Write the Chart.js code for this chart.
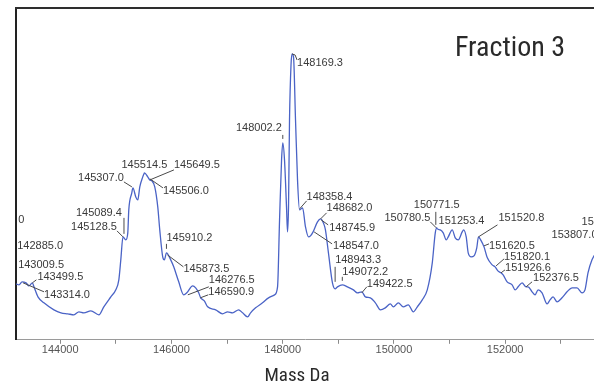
<!DOCTYPE html>
<html>
<head>
<meta charset="utf-8">
<script src="https://cdn.jsdelivr.net/npm/chart.js@4/dist/chart.umd.min.js"></script>
<style>
  html, body { margin: 0; padding: 0; background: #ffffff; }
  #wrap { width: 594px; height: 384px; }
</style>
</head>
<body>
<div id="wrap"><canvas id="spectrum" width="594" height="384"></canvas></div>
<script>
// Deconvoluted mass spectrum, Fraction 3 (mass in Da, relative intensity)
const masses = [
  143205, 143259, 143314.0, 143384, 143438, 143499.5, 143528, 143600, 143707, 143887,
  144013, 144138, 144246, 144336, 144425, 144551, 144695, 144784, 144910, 145000,
  145054, 145089.4, 145128.5, 145179, 145215, 145233, 145287, 145307.0, 145359, 145395,
  145431, 145484, 145506.0, 145514.5, 145574, 145610, 145649.5, 145700, 145754, 145790,
  145843, 145873.5, 145910.2, 145987, 146041, 146131, 146220, 146276.5, 146382, 146436,
  146490, 146526, 146590.9, 146651, 146795, 146920, 147010, 147100, 147208, 147279,
  147369, 147423, 147513, 147638, 147746, 147854, 147908, 147944, 147980, 148002.2,
  148033, 148069, 148087, 148105, 148123, 148150, 148169.3, 148195, 148231, 148267,
  148303, 148358.4, 148410, 148464, 148500, 148547.0, 148626, 148682.0, 148745.9, 148769,
  148823, 148895, 148943.3, 148985, 149072.2, 149164, 149272, 149344, 149422.5, 149487,
  149577, 149667, 149757, 149846, 149936, 149990, 150080, 150169, 150259, 150349,
  150421, 150510, 150600, 150690, 150744, 150771.5, 150780.5, 150834, 150887, 150941,
  150977, 151049, 151103, 151157, 151228, 151253.4, 151300, 151336, 151390, 151440,
  151490, 151520.8, 151560, 151620.5, 151680, 151767, 151820.1, 151870, 151926.6, 151964,
  152036, 152126, 152180, 152234, 152305, 152376.5, 152413, 152485, 152539, 152593,
  152664, 152754, 152808, 152862, 152934, 153023, 153113, 153203, 153293, 153383,
  153436, 153490, 153562, 153610
];
const intensity = [
  56, 55, 58, 57, 54, 57, 53, 43, 37, 30,
  27, 26, 25, 28, 27, 29, 25, 33, 43, 50,
  60, 80, 103, 100, 107, 130, 147, 152, 143, 140,
  153, 163, 166, 167, 163, 160, 159, 153, 133, 110,
  83, 80, 87, 80, 73, 58, 45, 47, 54, 52,
  47, 42, 39, 33, 30, 26, 28, 27, 30, 27,
  23, 27, 32, 37, 42, 45, 53, 120, 180, 197,
  180, 133, 108, 133, 220, 275, 286, 283, 220, 160,
  130, 132, 113, 103, 104, 108, 118, 121, 115, 110,
  87, 57, 51, 53, 55, 53, 50, 47, 48, 43,
  42, 37, 30, 32, 36, 33, 37, 33, 35, 28,
  33, 40, 50, 77, 107, 112, 111, 110, 107, 100,
  103, 110, 102, 100, 108, 110, 103, 87, 83, 84,
  92, 103, 100, 93, 82, 75, 73, 69, 67, 65,
  58, 55, 50, 53, 57, 53, 53, 48, 45, 50,
  47, 36, 40, 43, 38, 42, 48, 52, 52, 47,
  50, 67, 80, 85
];

// Peaks picked by the deconvolution software
const peakMasses = [
  142885.0, 143009.5, 143314.0, 143499.5, 145089.4, 145128.5, 145307.0, 145514.5,
  145506.0, 145649.5, 145873.5, 145910.2, 146276.5, 146590.9, 148002.2, 148169.3,
  148358.4, 148547.0, 148682.0, 148745.9, 148943.3, 149072.2, 149422.5, 150771.5,
  150780.5, 151253.4, 151520.8, 151620.5, 151820.1, 151926.6, 152376.5, 153807.0
];

// Axis range and tick positions (Da)
const massMin = 143205;
const massMax = 153598;
const tickValues = [144000, 145000, 146000, 147000, 148000, 149000, 150000, 151000, 152000, 153000];
const labelledTicks = [144000, 146000, 148000, 150000, 152000];

// Label placement: text offset from the peak (px), alignment, leader segments
const labelLayout = [
  { dx: 19, dy: -38, align: 'left', lines: [] },
  { dx: 13, dy: -19, align: 'left', lines: [] },
  { dx: 22, dy: 13, align: 'left', lines: [[1, 1, 22, 10]] },
  { dx: 5, dy: -6, align: 'left', lines: [[0, 0, 4, -3]] },
  { dx: 1, dy: -47, align: 'right', lines: [] },
  { dx: -6, dy: -10, align: 'right', lines: [[1, -19, 1, -3], [-6, -6, 0, 0]] },
  { dx: -9, dy: -10, align: 'right', lines: [[-9, -6, -1, -1]] },
  { dx: 0, dy: -8, align: 'center', lines: [] },
  { dx: 19, dy: 17, align: 'left', lines: [[6, 5, 19, 14]] },
  { dx: 22, dy: -16, align: 'left', lines: [[-2, -1, 22, -11]] },
  { dx: 19, dy: 9, align: 'left', lines: [[3, -5, 19, 7]] },
  { dx: 0, dy: -15, align: 'left', lines: [[0, -9, 0, -4]] },
  { dx: 22, dy: -13, align: 'left', lines: [[1, 2, 22, -6]] },
  { dx: 4, dy: -9, align: 'left', lines: [[-4, -3, 4, -6]] },
  { dx: -1, dy: -15, align: 'right', lines: [[0, -8, 0, -4]] },
  { dx: 5, dy: 9, align: 'left', lines: [[0, 0, 3, 1], [3, 1, 5, 6]] },
  { dx: 4, dy: -11, align: 'left', lines: [[-3, 1, 4, -7]] },
  { dx: 20, dy: 14, align: 'left', lines: [[1, 0, 19, 12]] },
  { dx: 6, dy: -11, align: 'left', lines: [[0, 0, 6, -6]] },
  { dx: 5, dy: 3, align: 'left', lines: [[-3, -5, 4, 0]] },
  { dx: 0, dy: -29, align: 'left', lines: [[0, -22, 0, -7]] },
  { dx: 0, dy: -13, align: 'left', lines: [[0, -8, 0, -4]] },
  { dx: 5, dy: -8, align: 'left', lines: [[0, 1, 5, -5]] },
  { dx: -23, dy: -23, align: 'left', lines: [[-1, -16, -1, -3]] },
  { dx: -7, dy: -11, align: 'right', lines: [[-7, -7, -1, -1]] },
  { dx: -25, dy: -9, align: 'left', lines: [] },
  { dx: 20, dy: -19, align: 'left', lines: [[0, 0, 19, -12]] },
  { dx: 5, dy: -1, align: 'left', lines: [[0, -1, 5, -3]] },
  { dx: 9, dy: -10, align: 'left', lines: [[1, -1, 9, -8]] },
  { dx: 4, dy: -5, align: 'left', lines: [[0, 0, 4, -3]] },
  { dx: 7, dy: -9, align: 'left', lines: [[0, 0, 6, -5]] },
  { dx: -54, dy: -20, align: 'left', lines: [] }
];

// Tails of labels that run past the plot edges
const clippedTails = [
  { peak: 0, text: '0', dx: 20, dy: -64 },
  { peak: 31, text: '15', dx: -24, dy: -33 }
];

function intensityAt(m) {
  const i = masses.indexOf(m);
  if (i >= 0) return intensity[i];
  return m < masses[0] ? intensity[0] : intensity[intensity.length - 1];
}

const LABEL_FONT = '11px "Liberation Sans", Arial, sans-serif';
const NARROW_FAMILY = '"Liberation Sans Narrow", "Roboto Condensed", "DejaVu Sans Condensed", Roboto, sans-serif';

const peakLabelPlugin = {
  id: 'peakLabels',
  afterDatasetsDraw(chart) {
    const { ctx, chartArea, scales } = chart;
    const xs = scales.x, ys = scales.y;
    ctx.save();
    ctx.beginPath();
    ctx.rect(chartArea.left + 1, 0, chart.width, chart.height);
    ctx.clip();
    ctx.font = LABEL_FONT;
    ctx.fillStyle = '#3a3a3a';
    ctx.strokeStyle = '#4a4a4a';
    ctx.lineWidth = 1;
    ctx.textBaseline = 'middle';
    peakMasses.forEach((m, i) => {
      const L = labelLayout[i];
      const ax = xs.getPixelForValue(m);
      const ay = ys.getPixelForValue(intensityAt(m));
      L.lines.forEach(([x0, y0, x1, y1]) => {
        ctx.beginPath();
        ctx.moveTo(ax + x0, ay + y0);
        ctx.lineTo(ax + x1, ay + y1);
        ctx.stroke();
      });
      ctx.textAlign = L.align;
      ctx.fillText(m.toFixed(1), ax + L.dx, ay + L.dy);
    });
    clippedTails.forEach(t => {
      const m = peakMasses[t.peak];
      const ax = xs.getPixelForValue(m);
      const ay = ys.getPixelForValue(intensityAt(m));
      ctx.textAlign = 'left';
      ctx.fillText(t.text, ax + t.dx, ay + t.dy);
    });
    ctx.restore();
  }
};

// Top frame line, panel caption and axis title
const framePlugin = {
  id: 'frame',
  afterDraw(chart) {
    const { ctx, chartArea } = chart;
    ctx.save();
    ctx.strokeStyle = '#2e2e2e';
    ctx.lineWidth = 2;
    ctx.beginPath();
    ctx.moveTo(chartArea.left - 1, chartArea.top);
    ctx.lineTo(chart.width, chartArea.top);
    ctx.stroke();

    ctx.font = '28px ' + NARROW_FAMILY;
    ctx.fillStyle = '#2a2a2a';
    ctx.textAlign = 'right';
    ctx.textBaseline = 'middle';
    ctx.fillText('Fraction 3', chartArea.right - 29, chartArea.top + 41);

    ctx.font = '19px ' + NARROW_FAMILY;
    ctx.textAlign = 'center';
    ctx.fillText('Mass Da', (chartArea.left + chartArea.right) / 2 - 8, chartArea.bottom + 36);
    ctx.restore();
  }
};

new Chart(document.getElementById('spectrum'), {
  type: 'line',
  data: {
    datasets: [{
      data: masses.map((m, i) => ({ x: m, y: intensity[i] })),
      borderColor: '#4a63c6',
      borderWidth: 1.3,
      pointRadius: 0,
      fill: false,
      cubicInterpolationMode: 'monotone'
    }]
  },
  options: {
    responsive: false,
    animation: false,
    devicePixelRatio: 1,
    layout: { padding: { left: 8, top: 8, right: 0, bottom: 27 } },
    plugins: { legend: { display: false }, tooltip: { enabled: false } },
    scales: {
      x: {
        type: 'linear',
        min: massMin,
        max: massMax,
        afterBuildTicks(scale) {
          scale.ticks = tickValues.map(v => ({ value: v }));
        },
        ticks: {
          autoSkip: false,
          maxRotation: 0,
          padding: 0,
          color: '#555555',
          font: { family: '"Liberation Sans", Arial, sans-serif', size: 11 },
          callback: v => labelledTicks.includes(v) ? String(v) : ''
        },
        grid: { drawOnChartArea: false, drawTicks: true, tickLength: 4, color: '#8a8a8a' },
        border: { display: true, color: '#9a9a9a', width: 1 },
        title: { display: false }
      },
      y: {
        type: 'linear',
        min: 0,
        max: 332,
        ticks: { display: false },
        grid: { display: false },
        border: { display: true, color: '#222222', width: 2 }
      }
    }
  },
  plugins: [peakLabelPlugin, framePlugin]
});
</script>
</body>
</html>
